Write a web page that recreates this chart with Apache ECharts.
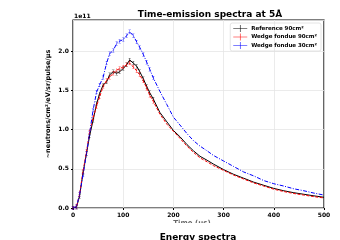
<!DOCTYPE html>
<html>
<head>
<meta charset="utf-8">
<script src="https://cdn.jsdelivr.net/npm/echarts@6/dist/echarts.min.js"></script>
<style>
  html, body { margin: 0; padding: 0; background: #fff; }
  #chart { width: 340px; height: 240px; }
</style>
</head>
<body>
<div id="chart"></div>
<script>
// time (us)
var time = [0, 7, 13, 20, 27, 33, 40, 47, 53, 60, 67, 73, 80, 87, 93, 100, 107, 113, 120, 127, 133, 140, 147, 153,
  160, 173, 187, 200, 213, 227, 240, 253, 267, 280, 300, 320, 340, 360, 380, 400, 420, 440, 460, 480, 500];
// values in units of 1e11
var reference90 = [0, 0.01, 0.15, 0.45, 0.70, 0.92, 1.12, 1.33, 1.46, 1.57, 1.61, 1.70, 1.74, 1.72, 1.74, 1.78, 1.83, 1.89, 1.85, 1.81, 1.74, 1.65, 1.55, 1.47,
  1.39, 1.22, 1.10, 0.99, 0.91, 0.81, 0.73, 0.66, 0.61, 0.56, 0.49, 0.43, 0.38, 0.33, 0.29, 0.25, 0.22, 0.195, 0.175, 0.155, 0.137];
var wedge90 = [0, 0.02, 0.17, 0.47, 0.72, 0.97, 1.15, 1.30, 1.42, 1.55, 1.63, 1.67, 1.72, 1.76, 1.78, 1.80, 1.83, 1.85, 1.80, 1.75, 1.70, 1.62, 1.53, 1.44,
  1.36, 1.20, 1.07, 0.98, 0.89, 0.79, 0.71, 0.64, 0.59, 0.54, 0.48, 0.42, 0.37, 0.32, 0.28, 0.24, 0.21, 0.185, 0.165, 0.145, 0.128];
var wedge30 = [0, 0.02, 0.17, 0.42, 0.70, 0.95, 1.25, 1.48, 1.57, 1.67, 1.85, 1.97, 2.01, 2.10, 2.13, 2.15, 2.20, 2.25, 2.20, 2.12, 2.05, 1.96, 1.86, 1.77,
  1.66, 1.49, 1.32, 1.16, 1.06, 0.95, 0.86, 0.79, 0.73, 0.67, 0.60, 0.53, 0.46, 0.41, 0.35, 0.31, 0.28, 0.245, 0.22, 0.19, 0.165];
var seriesNames = ['Reference 90cm²', 'Wedge fondue 90cm²', 'Wedge fondue 30cm²'];
var xTicks = [0, 100, 200, 300, 400, 500];
var yTicks = [0, 0.5, 1.0, 1.5, 2.0];

var capSymbol = 'path://M0,0H4V0.6H2.3V9.4H4V10H0V9.4H1.7V0.6H0Z';
var legendIcon = 'path://M0,4.6H20V5.4H0ZM9.6,0H10.4V10H9.6Z';
var font = 'DejaVu Sans';

// error-bar caps are only visible on the rising part and the peak
function pairs(vals) {
  return time.map(function (t, i) {
    return t <= 160 ? { value: [t, vals[i]] } : { value: [t, vals[i]], symbol: 'none' };
  });
}

function mkSeries(name, vals, color, dash) {
  return {
    name: name,
    type: 'line',
    data: pairs(vals),
    symbol: capSymbol,
    symbolSize: [2.5, 4],
    showSymbol: true,
    itemStyle: { color: color },
    lineStyle: { color: color, width: 1, type: dash },
    animation: false
  };
}

var chart = echarts.init(document.getElementById('chart'));
chart.setOption({
  animation: false,
  title: {
    text: 'Time-emission spectra at 5Å',
    left: 205, top: 5, textAlign: 'center',
    textStyle: { fontFamily: font, fontSize: 9, fontWeight: 'bold', color: '#000' }
  },
  grid: { left: 73, right: 16, top: 20, bottom: 32, show: true, borderColor: '#000', borderWidth: 1.2 },
  legend: {
    orient: 'vertical', right: 19, top: 23,
    itemWidth: 14, itemHeight: 7, itemGap: 1.5,
    padding: [2, 4, 2, 3],
    borderColor: '#ddd', borderWidth: 0.8, borderRadius: 2,
    textStyle: { fontFamily: font, fontSize: 5.5, fontWeight: 'bold', color: '#000', padding: [0, 0, 0, -1] },
    data: seriesNames.map(function (n) { return { name: n, icon: legendIcon }; })
  },
  xAxis: {
    type: 'value', min: xTicks[0], max: xTicks[xTicks.length - 1], interval: 100,
    axisLine: { show: false },
    axisTick: { show: true, length: 2, lineStyle: { color: '#000' } },
    axisLabel: { fontFamily: font, fontSize: 6, fontWeight: 'bold', color: '#000', margin: 4 },
    splitLine: { show: true, lineStyle: { color: '#e6e6e6', width: 0.8 } }
  },
  yAxis: {
    type: 'value', min: 0, max: 2.4, interval: 0.5,
    axisLine: { show: false },
    axisTick: { show: true, length: 2, lineStyle: { color: '#000' } },
    axisLabel: {
      fontFamily: font, fontSize: 6, fontWeight: 'bold', color: '#000', margin: 4, showMaxLabel: false,
      formatter: function (v) { return yTicks.indexOf(v) >= 0 ? v.toFixed(1) : ''; }
    },
    splitLine: { show: true, lineStyle: { color: '#e6e6e6', width: 0.8 } }
  },
  graphic: [
    { type: 'text', left: 74, top: 13, style: { text: '1e11', font: 'bold 6px "DejaVu Sans"', fill: '#000' } },
    {
      type: 'text', x: 48, y: 104, rotation: Math.PI / 2,
      style: { text: '~neutrons/cm²/eV/sr/pulse/μs', font: 'bold 6.5px "DejaVu Sans"', fill: '#000', align: 'center', verticalAlign: 'middle' }
    },
    { type: 'text', x: 192, y: 220, style: { text: 'Time (μs)', font: 'bold 7px "DejaVu Sans"', fill: '#666', align: 'center' }, z: 1 },
    { type: 'rect', shape: { x: 160, y: 223, width: 80, height: 8 }, style: { fill: '#fff' }, z: 2 },
    { type: 'text', x: 198, y: 233.5, style: { text: 'Energy spectra', font: 'bold 9px "DejaVu Sans"', fill: '#000', align: 'center' }, z: 3 }
  ],
  series: [
    mkSeries(seriesNames[0], reference90, '#000000', 'solid'),
    mkSeries(seriesNames[1], wedge90, '#ff0000', [3, 1.5]),
    mkSeries(seriesNames[2], wedge30, '#0000ff', [4, 1.5, 1, 1.5])
  ]
});
</script>
</body>
</html>
